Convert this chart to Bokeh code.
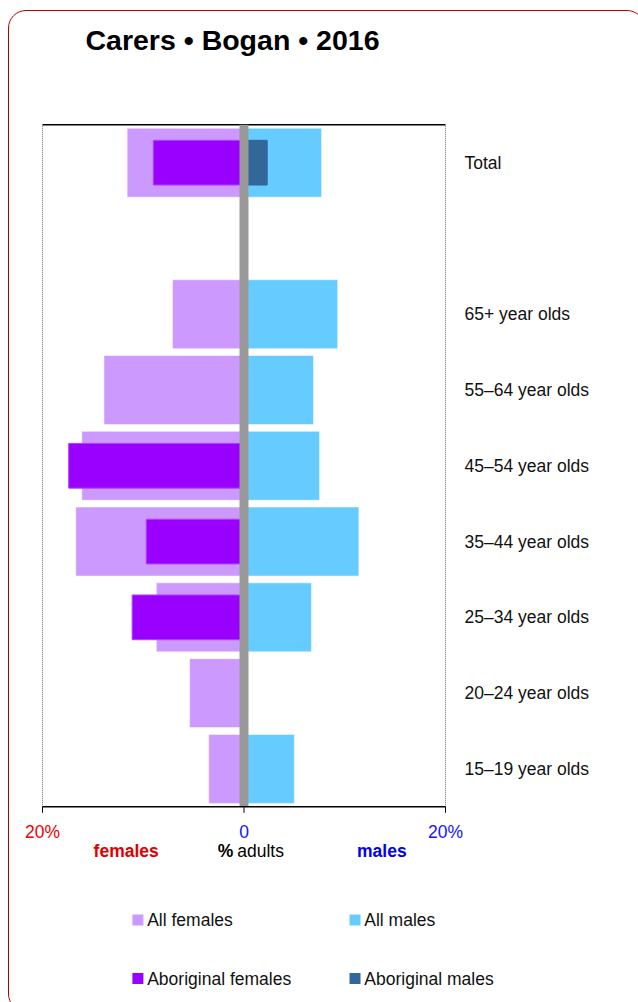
from bokeh.plotting import figure
from bokeh.models import ColumnDataSource, Range1d, GlobalInlineStyleSheet
from bokeh.core.properties import value
from bokeh.embed import file_html
from bokeh.resources import INLINE

# ---- data ----
categories = ["15–19 year olds", "20–24 year olds", "25–34 year olds",
              "35–44 year olds", "45–54 year olds", "55–64 year olds",
              "65+ year olds", "Total"]
all_females = [3.5, 5.4, 8.7, 16.7, 16.1, 13.9, 7.1, 11.6]
all_males = [5.0, 0.0, 6.7, 11.4, 7.5, 6.9, 9.3, 7.7]
aboriginal_females = [None, None, 11.1, 9.7, 17.4, None, None, 9.0]
aboriginal_males = [None, None, None, None, None, None, None, 2.3]
x_ticks = [-20, 0, 20]
x_tick_labels = ["20%", "0", "20%"]
x_tick_colors = ["#EE0000", "#1414FF", "#1414FF"]
legend_labels = ["All females", "All males", "Aboriginal females", "Aboriginal males"]
legend_colors = ["#CC99FF", "#66CCFF", "#9900FF", "#336699"]
title = "Carers • Bogan • 2016"

FONT = value("Liberation Sans")
W, H = 638, 1000

# pixel <-> data mapping of the plotting area (layout only)
ZERO_PX, PX_PER_PCT = 243.5, 10.075
BOTTOM_PX, PX_PER_SLOT = 806.3, 75.78


def X(px):
    return (px - ZERO_PX) / PX_PER_PCT


def Y(py):
    return -0.5 + (BOTTOM_PX - py) / PX_PER_SLOT


# one empty slot between the age groups and Total
slots = [i + (1 if c == "Total" else 0) for i, c in enumerate(categories)]
y_lo, y_hi = -0.5, max(slots) + 0.5
x_lo, x_hi = min(x_ticks), max(x_ticks)


def src(values, side):
    ys, l, r = [], [], []
    for y, v in zip(slots, values):
        if v is None or v == 0:
            continue
        ys.append(y)
        if side == "f":
            l.append(-v); r.append(0)
        else:
            l.append(0); r.append(v)
    return ColumnDataSource(dict(y=ys, left=l, right=r))


p = figure(width=W, height=H, x_range=Range1d(X(0), X(W)), y_range=Range1d(Y(H), Y(0)),
           output_backend="svg", toolbar_location=None,
           x_axis_location=None, y_axis_location=None, min_border=0)
p.outline_line_color = None
p.xgrid.visible = False
p.ygrid.visible = False
p.background_fill_color = "white"
p.border_fill_color = "white"

# bars
p.hbar(y="y", left="left", right="right", height=0.91, source=src(all_females, "f"),
       fill_color=legend_colors[0], line_color="white", line_alpha=0.5, line_width=1)
p.hbar(y="y", left="left", right="right", height=0.91, source=src(all_males, "m"),
       fill_color=legend_colors[1], line_color="white", line_alpha=0.5, line_width=1)
p.hbar(y="y", left="left", right="right", height=0.59, source=src(aboriginal_females, "f"),
       fill_color=legend_colors[2], line_color="#B040FF", line_width=1)
p.hbar(y="y", left="left", right="right", height=0.59, source=src(aboriginal_males, "m"),
       fill_color=legend_colors[3], line_color=legend_colors[3], line_width=1)

# plot-area frame: dotted sides, solid top, bottom axis line
p.segment(x0=[x_lo, x_hi], y0=[y_lo, y_lo], x1=[x_lo, x_hi], y1=[y_hi, y_hi],
          line_color="#707070", line_dash="1 1", line_width=1)
p.segment(x0=[x_lo], y0=[y_hi], x1=[x_hi], y1=[y_hi], line_color="black", line_width=1.5)
# central grey divider
p.segment(x0=[0], y0=[y_lo], x1=[0], y1=[y_hi], line_color="#999999", line_width=9)
p.segment(x0=[x_lo], y0=[y_lo], x1=[x_hi], y1=[y_lo], line_color="black", line_width=1.5)
# ticks
tick_len = 6 / PX_PER_SLOT
p.segment(x0=x_ticks, y0=[y_lo] * 3, x1=x_ticks, y1=[y_lo - tick_len] * 3,
          line_color="black", line_width=1)

# tick labels (coloured)
p.text(x="x", y="y", text="t", text_color="c",
       source=ColumnDataSource(dict(x=x_ticks, y=[Y(831.4)] * 3, t=x_tick_labels, c=x_tick_colors)),
       text_font=FONT, text_font_size="17.5px", text_align="center",
       text_baseline="middle")

# category labels on the right
p.text(x=[X(464)] * len(slots), y=slots, text=categories, text_font=FONT,
       text_font_size="17.5px", text_color="#111111", text_align="left",
       text_baseline="middle")

# captions under the axis
cap_y = Y(850.5)
p.text(x=[X(125.7)], y=[cap_y], text=["females"], text_font=FONT, text_font_size="17.5px",
       text_font_style="bold", text_color="#E00000", text_align="center",
       text_baseline="middle")
p.text(x=[X(217.3)], y=[cap_y], text=["%"], text_font=FONT, text_font_size="17.5px",
       text_font_style="bold", text_color="black", text_align="left",
       text_baseline="middle")
p.text(x=[X(236.7)], y=[cap_y], text=["adults"], text_font=FONT, text_font_size="17.5px",
       text_color="black", text_align="left", text_baseline="middle")
p.text(x=[X(381.3)], y=[cap_y], text=["males"], text_font=FONT, text_font_size="17.5px",
       text_font_style="bold", text_color="#0000EE", text_align="center",
       text_baseline="middle")

# title
p.text(x=[X(85)], y=[Y(39.5)], text=[title], text_font=FONT, text_font_size="28.5px",
       text_font_style="bold", text_color="black", text_align="left",
       text_baseline="middle")

# legend (2 x 2)
col_px = [137.4, 354.5, 137.4, 354.5]
row_px = [919.5, 919.5, 978.0, 978.0]
p.scatter(x=[X(c) for c in col_px], y=[Y(r) for r in row_px], marker="square", size=11,
          fill_color=legend_colors, line_color=None)
p.text(x=[X(c + 9.3) for c in col_px], y=[Y(r) for r in row_px], text=legend_labels,
       text_font=FONT, text_font_size="17.5px", text_color="#111111",
       text_align="left", text_baseline="middle")

# rounded card border
p.stylesheets = [GlobalInlineStyleSheet(css="""
body::before { content: ""; position: fixed; left: 8px; top: 10px; width: 635px;
  height: 1000px; border: 1px solid #B00000; border-radius: 18px;
  pointer-events: none; z-index: 10; }
""")]

open("out.html", "w").write(file_html(p, INLINE))
